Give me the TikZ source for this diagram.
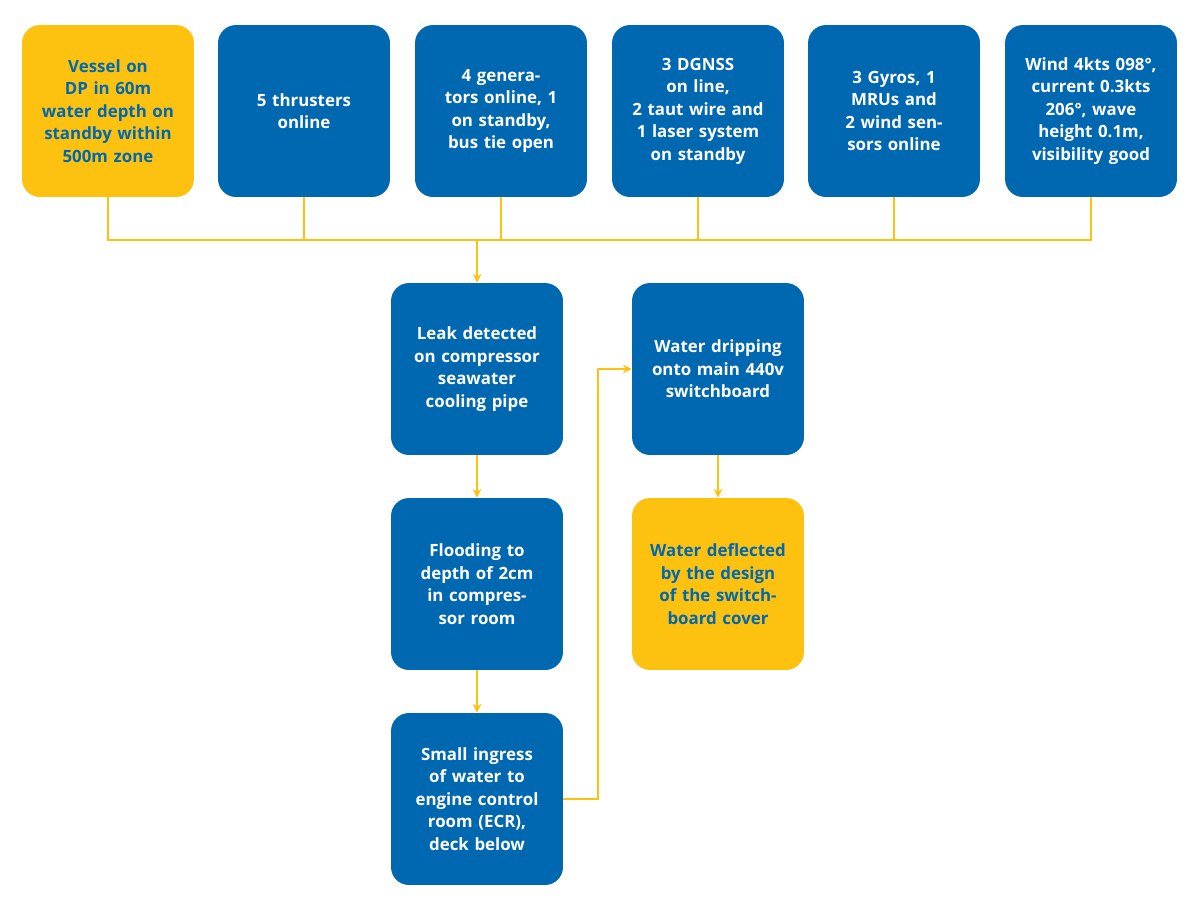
\documentclass[tikz,border=0pt]{standalone}
\usepackage{fontspec}
\setmainfont{Open Sans}
\usetikzlibrary{arrows.meta}
\definecolor{bl}{HTML}{0067B1}
\definecolor{ye}{HTML}{FDC20F}
\begin{document}
\begin{tikzpicture}[x=0.02cm,y=-0.02cm,
 box/.style={minimum width=3.44cm,minimum height=3.44cm,rounded corners=0.36cm,text width=2.9cm,align=center,font=\bfseries\fontsize{9.6}{12.8}\selectfont,inner sep=0pt},
 bb/.style={box,fill=bl,text=white},
 yb/.style={box,fill=ye,text=bl},
 ln/.style={draw=ye,line width=0.8pt},
 ar/.style={ln,-{Stealth[length=5pt,width=5pt]}}]
\useasboundingbox (0,0) rectangle (1200,917);
\node[yb] (a) at (108,111) {Vessel on DP in 60m water depth on standby within 500m zone};
\node[bb] (b) at (304,111) {5 thrusters online};
\node[bb] (c) at (501,111) {4 generators online, 1 on standby, bus tie open};
\node[bb] (d) at (698,111) {3 DGNSS\\on line,\\2 taut wire and 1 laser system on standby};
\node[bb] (e) at (894,111) {3 Gyros, 1 MRUs and\\2 wind sensors online};
\node[bb] (f) at (1091,111) {Wind 4kts 098°, current 0.3kts 206°, wave height 0.1m, visibility good};
\node[bb] (g) at (477,369) {Leak detected on compressor seawater cooling pipe};
\node[bb] (h) at (477,584) {Flooding to depth of 2cm in compressor room};
\node[bb] (i) at (477,799) {Small ingress of water to engine control room (ECR), deck below};
\node[bb] (j) at (718,369) {Water dripping onto main 440v switchboard};
\node[yb] (k) at (718,584) {Water deflected by the design of the switchboard cover};
\coordinate (bus) at (477,240);
\draw[ln] (a.south) |- (f.south |- bus) -- (f.south);
\foreach \n in {b,c,d,e} \draw[ln] (\n.south) -- (\n.south |- bus);
\draw[ar] (bus) -- (g.north);
\draw[ar] (g) -- (h);
\draw[ar] (h) -- (i);
\draw[ar] (j) -- (k);
\coordinate (t) at (598,799);
\draw[ar] (i.east) -- (t) |- (j.west);
\end{tikzpicture}
\end{document}
